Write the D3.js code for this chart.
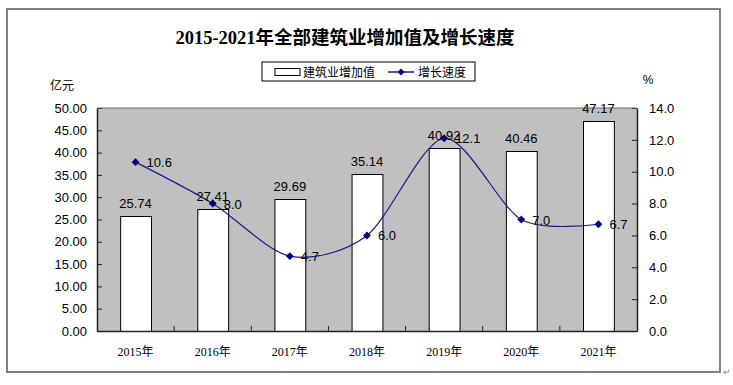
<!DOCTYPE html>
<html><head><meta charset="utf-8">
<script src="https://cdn.jsdelivr.net/npm/d3@7"></script>
<style>body{margin:0;background:#fff}svg{display:block}</style>
</head><body>
<script>
const categories = ["2015年","2016年","2017年","2018年","2019年","2020年","2021年"];
const addedValue = [25.74,27.41,29.69,35.14,40.92,40.46,47.17];
const growthRate = [10.6,8.0,4.7,6.0,12.1,7.0,6.7];
const leftTicks = [0,5,10,15,20,25,30,35,40,45,50];
const rightTicks = [0,2,4,6,8,10,12,14];

const W=733,H=385;
const svg=d3.select("body").append("svg").attr("width",W).attr("height",H);
const L=97,R=637,T=108,B=331;
const numFont="'Liberation Sans',Arial,sans-serif";
const cjkFont="'Liberation Serif','Noto Sans CJK SC',serif";

// outer frame
svg.append("rect").attr("x",7).attr("y",9).attr("width",713).attr("height",363)
  .attr("fill","none").attr("stroke","#808080").attr("stroke-width",2);
svg.append("text").attr("x",727).attr("y",375).attr("font-size",9).attr("fill","#888")
  .attr("font-family",numFont).attr("text-anchor","middle").text("↵");

// title
svg.append("text").attr("x",345).attr("y",44).attr("text-anchor","middle")
  .attr("font-family",cjkFont).attr("font-weight","bold").attr("font-size",18.5)
  .text("2015-2021年全部建筑业增加值及增长速度");

const x=d3.scaleBand().domain(categories).range([L,R]).paddingInner(0.6).paddingOuter(0.3);
const xb=d3.scaleBand().domain(categories).range([L,R]);
const yL=d3.scaleLinear().domain([0,50]).range([B,T]);
const yR=d3.scaleLinear().domain([0,14]).range([B,T]);

// plot bg
svg.append("rect").attr("x",L).attr("y",T).attr("width",R-L).attr("height",B-T).attr("fill","#C0C0C0");

// bars
svg.selectAll("rect.bar").data(addedValue).join("rect").attr("class","bar")
  .attr("x",(d,i)=>x(categories[i])+0.5).attr("y",d=>Math.round(yL(d))+0.5)
  .attr("width",x.bandwidth()).attr("height",d=>B-Math.round(yL(d)))
  .attr("fill","#fff").attr("stroke","#000").attr("stroke-width",1);

// axes
const gL=svg.append("g").attr("transform",`translate(${L},0)`)
  .call(d3.axisLeft(yL).tickValues(leftTicks).tickFormat(d3.format(".2f")).tickSizeInner(-5).tickSizeOuter(0).tickPadding(10));
const gR=svg.append("g").attr("transform",`translate(${R},0)`)
  .call(d3.axisRight(yR).tickValues(rightTicks).tickFormat(d3.format(".1f")).tickSizeInner(-5).tickSizeOuter(0).tickPadding(12));
const gX=svg.append("g").attr("transform",`translate(0,${B})`)
  .call(d3.axisBottom(xb).tickSizeInner(0).tickSizeOuter(0).tickPadding(16));
// x tick marks at band boundaries (inside)
svg.selectAll("line.xt").data(categories.slice(1)).join("line").attr("class","xt")
  .attr("x1",d=>xb(d)).attr("x2",d=>xb(d)).attr("y1",B).attr("y2",B-5).attr("stroke","#222");
[gL,gR,gX].forEach(g=>{
  g.selectAll(".domain").attr("stroke","#222").attr("stroke-width",1.5);
  g.selectAll(".tick line").attr("stroke","#222");
});
gL.selectAll("text").attr("font-family",numFont).attr("font-size",13).attr("fill","#000");
gR.selectAll("text").attr("font-family",numFont).attr("font-size",13).attr("fill","#000");
gX.selectAll("text").attr("font-family",cjkFont).attr("font-size",12).attr("fill","#000");
// top border of plot
svg.append("line").attr("x1",L).attr("x2",R).attr("y1",T).attr("y2",T).attr("stroke","#666");

// unit labels
svg.append("text").attr("x",62).attr("y",90).attr("font-family",cjkFont).attr("font-size",12).attr("text-anchor","middle").text("亿元");
svg.append("text").attr("x",648).attr("y",84).attr("font-family",numFont).attr("font-size",12).attr("text-anchor","middle").text("%");

// line
const cx=i=>x(categories[i])+x.bandwidth()/2;
const line=d3.line().x((d,i)=>cx(i)).y(d=>yR(d)).curve(d3.curveCardinal.tension(0.15));
svg.append("path").datum(growthRate).attr("d",line).attr("fill","none").attr("stroke","#1a1a8c").attr("stroke-width",1.2);
svg.selectAll("path.mk").data(growthRate).join("path").attr("class","mk")
  .attr("d",d3.symbol().type(d3.symbolDiamond2).size(40))
  .attr("transform",(d,i)=>`translate(${cx(i)},${yR(d)})`).attr("fill","#000080");

// bar labels
svg.selectAll("text.bl").data(addedValue).join("text").attr("class","bl")
  .attr("x",(d,i)=>cx(i)).attr("y",d=>yL(d)-8).attr("text-anchor","middle")
  .attr("font-family",numFont).attr("font-size",13).text(d=>d.toFixed(2));
// line labels
svg.selectAll("text.ll").data(growthRate).join("text").attr("class","ll")
  .attr("x",(d,i)=>cx(i)+11).attr("y",d=>yR(d)+5)
  .attr("font-family",numFont).attr("font-size",13).text(d=>d.toFixed(1));

// legend
const lg=svg.append("g");
lg.append("rect").attr("x",262).attr("y",62).attr("width",213).attr("height",19).attr("fill","#fff").attr("stroke","#000");
lg.append("rect").attr("x",275).attr("y",68.5).attr("width",25).attr("height",7).attr("fill","#fff").attr("stroke","#000");
lg.append("text").attr("x",303).attr("y",77).attr("font-family",cjkFont).attr("font-size",12).text("建筑业增加值");
lg.append("line").attr("x1",388).attr("x2",414).attr("y1",72).attr("y2",72).attr("stroke","#1a1a8c").attr("stroke-width",1.5);
lg.append("path").attr("d",d3.symbol().type(d3.symbolDiamond2).size(30)).attr("transform","translate(401,72)").attr("fill","#000080");
lg.append("text").attr("x",418).attr("y",77).attr("font-family",cjkFont).attr("font-size",12).text("增长速度");
</script>
</body></html>
